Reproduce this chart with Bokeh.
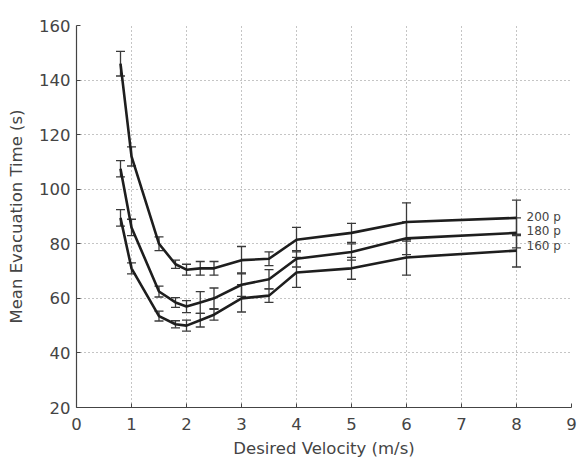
from bokeh.plotting import figure
from bokeh.models import ColumnDataSource, Whisker, TeeHead, FixedTicker, Range1d
from bokeh.core.properties import value
from bokeh.embed import file_html
from bokeh.resources import INLINE

velocity = [0.8, 1.0, 1.5, 1.8, 2.0, 2.25, 2.5, 3.0, 3.5, 4.0, 5.0, 6.0, 8.0]
t200 = [146, 112, 80, 72.5, 70.5, 71, 71, 74, 74.5, 81.5, 84, 88, 89.5]
e200 = [4.5, 3.5, 2.5, 1.5, 2, 2.5, 2.5, 5, 2.5, 4.5, 3.5, 7, 6.5]
t180 = [107.5, 86, 62.5, 58.5, 57, 58.5, 60, 65, 67, 74.5, 77, 82, 84]
e180 = [3, 3, 2, 1.8, 2.2, 4, 3.8, 4.3, 3.5, 3, 3, 6, 5.5]
t160 = [89.5, 71, 53.5, 50.5, 50, 52, 54, 60, 61, 69.5, 71, 75, 77.5]
e160 = [3, 2, 1.8, 1.3, 2, 2.5, 2, 5, 2.5, 5.5, 4, 6.5, 6]
series_labels = ["200 p", "180 p", "160 p"]
x_ticks = list(range(0, 10))
y_ticks = list(range(20, 161, 20))

FONT = "DejaVu Sans"
TXT = "#444444"

p = figure(width=577, height=461, output_backend="svg", toolbar_location=None,
           x_range=Range1d(0, 9), y_range=Range1d(20, 160),
           min_border_left=76, min_border_right=6, min_border_top=25, min_border_bottom=54)
p.outline_line_color = None
p.background_fill_color = "white"

for ax in (p.xaxis[0], p.yaxis[0]):
    ax.axis_line_color = "#444444"
    ax.axis_line_width = 1.2
    ax.major_tick_in = 4
    ax.major_tick_out = 0
    ax.major_tick_line_color = "#444444"
    ax.minor_tick_line_color = None
    ax.major_label_text_font = FONT
    ax.major_label_text_font_size = "16.5px"
    ax.major_label_text_color = TXT
    ax.axis_label_text_font = FONT
    ax.axis_label_text_font_size = "16.5px"
    ax.axis_label_text_font_style = "normal"
    ax.axis_label_text_color = TXT

p.xaxis.ticker = FixedTicker(ticks=x_ticks)
p.yaxis.ticker = FixedTicker(ticks=y_ticks)
p.xaxis.axis_label = "Desired Velocity (m/s)"
p.yaxis.axis_label = "Mean Evacuation Time (s)"
p.xaxis.major_label_standoff = 10
p.xaxis.axis_label_standoff = 6
p.yaxis.major_label_standoff = 6
p.yaxis.axis_label_standoff = 10

p.grid.grid_line_color = "#8a8a8a"
p.grid.grid_line_dash = "1 3"
p.grid.grid_line_width = 1

for t, e in ((t160, e160), (t180, e180), (t200, e200)):
    src = ColumnDataSource(dict(x=velocity, y=t,
                                lo=[a - b for a, b in zip(t, e)],
                                hi=[a + b for a, b in zip(t, e)]))
    w = Whisker(base="x", upper="hi", lower="lo", source=src,
                line_color="#3a3a3a", line_width=1.3,
                upper_head=TeeHead(size=9, line_color="#3a3a3a", line_width=1.3),
                lower_head=TeeHead(size=9, line_color="#3a3a3a", line_width=1.3))
    p.add_layout(w)
    p.line("x", "y", source=src, line_color="#1e1e1e", line_width=2.6, line_join="round")

lab_src = ColumnDataSource(dict(x=[velocity[-1]] * 3, y=[t200[-1], t180[-1], t160[-1]],
                                text=series_labels, dy=[-1, -2, -5]))
p.text("x", "y", text="text", source=lab_src, x_offset=10, y_offset="dy",
       text_font=value(FONT), text_font_size="12px", text_color=TXT,
       text_baseline="middle", text_align="left")

open("out.html", "w").write(file_html(p, INLINE))
